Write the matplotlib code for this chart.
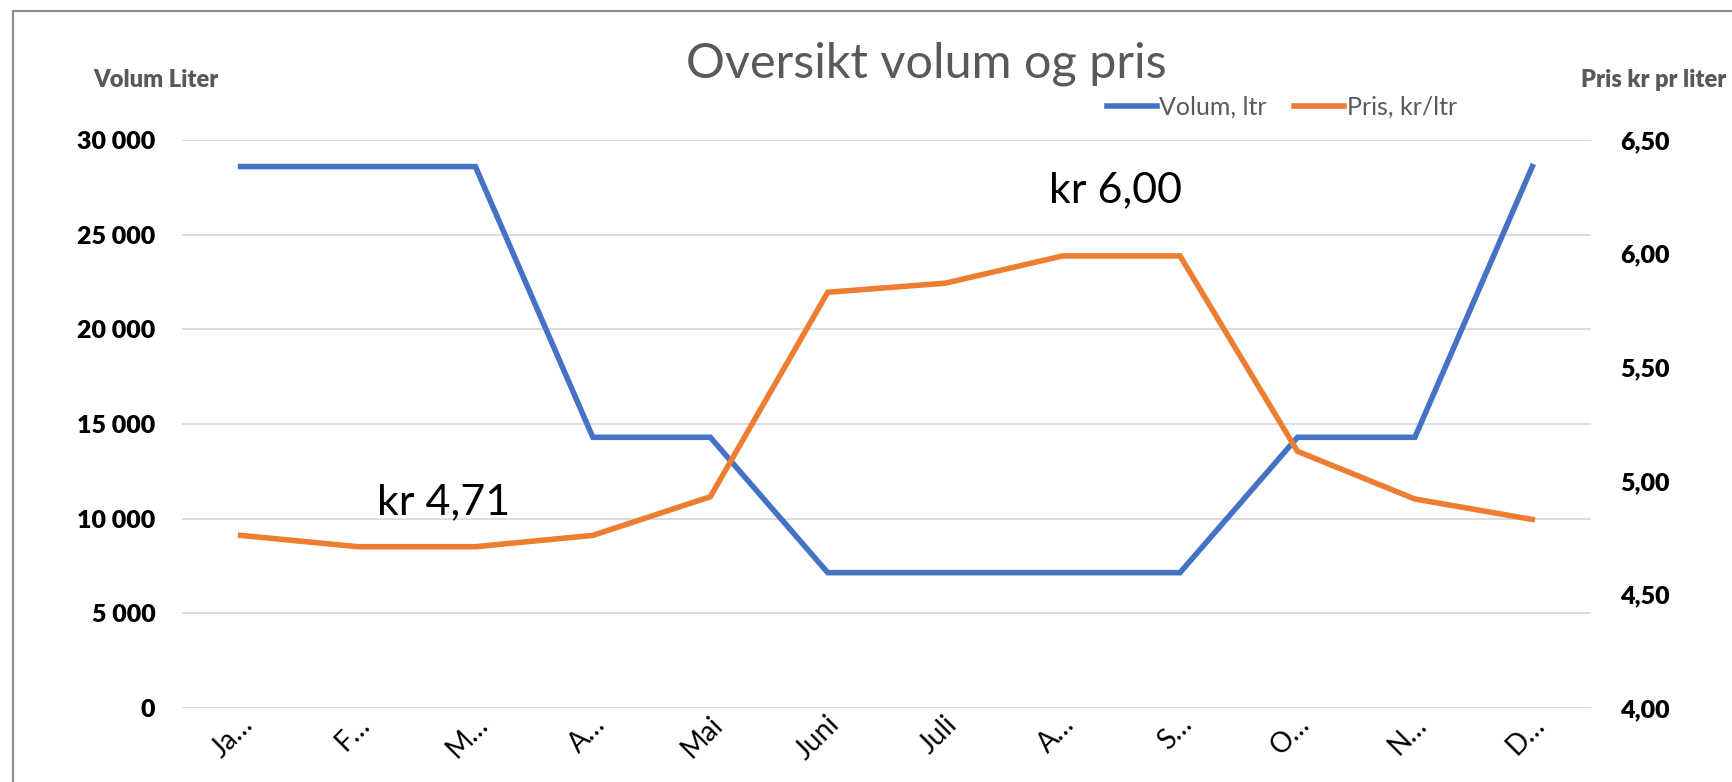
import numpy as np
import matplotlib.pyplot as plt
from matplotlib.patches import Rectangle
from matplotlib.ticker import FuncFormatter, MultipleLocator
from matplotlib.transforms import ScaledTranslation

plt.rcParams['font.family'] = ['Lato', 'DejaVu Sans']

# data
months = ['Ja…', 'F…', 'M…', 'A…', 'Mai', 'Juni', 'Juli', 'A…', 'S…', 'O…', 'N…', 'D…']
volum = [28600, 28600, 28600, 14300, 14300, 7150, 7150, 7150, 7150, 14300, 14300, 28600]
pris = [4.76, 4.71, 4.71, 4.76, 4.93, 5.83, 5.87, 5.99, 5.99, 5.13, 4.92, 4.83]

blue = '#4472C4'
orange = '#ED7D31'
grey = '#595959'

fig = plt.figure(figsize=(17.32, 7.82), dpi=100)
# outer frame of the chart object (cut at right and bottom)
fig.patches.append(Rectangle((13 / 1732, -0.1), 1.2, 1.1 - 11 / 782, transform=fig.transFigure,
                             fill=False, edgecolor='#8c8c8c', linewidth=1.6))

ax = fig.add_axes([0.105, 0.0946, 0.8136, 0.7263])
ax2 = ax.twinx()

x = np.arange(len(months))
l1, = ax.plot(x, volum, color=blue, lw=4, solid_joinstyle='miter', label='Volum, ltr', zorder=3)
l2, = ax2.plot(x, pris, color=orange, lw=4, solid_joinstyle='miter', label='Pris, kr/ltr', zorder=3)

ax.set_xlim(-0.5, 11.5)
ax.set_ylim(0, 30000)
ax2.set_ylim(4.0, 6.5)
ax.yaxis.set_major_locator(MultipleLocator(5000))
ax2.yaxis.set_major_locator(MultipleLocator(0.5))
ax.yaxis.set_major_formatter(FuncFormatter(lambda v, p: f'{int(v):,}'.replace(',', ' ')))
ax2.yaxis.set_major_formatter(FuncFormatter(lambda v, p: f'{v:.2f}'.replace('.', ',')))

ax.grid(axis='y', color='#d9d9d9', lw=1.3)
ax.set_axisbelow(True)
for a in (ax, ax2):
    for s in a.spines.values():
        s.set_visible(False)
    a.tick_params(length=0)

ax.tick_params(axis='y', pad=19, labelsize=18)
ax2.tick_params(axis='y', pad=21, labelsize=18)
for t in ax.get_yticklabels() + ax2.get_yticklabels():
    t.set_fontweight('heavy')

ax.set_xticks(x)
ax.set_xticklabels(months, rotation=45, ha='right', va='center', rotation_mode='anchor', fontsize=20)
ax.tick_params(axis='x', pad=9)
# labels sit a bit right of the tick, like excel
shift = ScaledTranslation(0.08, 0, fig.dpi_scale_trans)
for lbl in ax.get_xticklabels():
    lbl.set_transform(lbl.get_transform() + shift)

# data labels
ax2.text(1.73, 4.905, 'kr 4,71', fontsize=31, ha='center', va='center')
ax2.text(7.45, 6.28, 'kr 6,00', fontsize=31, ha='center', va='center')

fig.text(0.535, 0.918, 'Oversikt volum og pris', fontsize=35, color=grey, ha='center', va='center')
fig.text(0.054, 0.898, 'Volum Liter', fontsize=17, color=grey, fontweight='heavy', va='center')
fig.text(0.913, 0.898, 'Pris kr pr liter', fontsize=17, color=grey, fontweight='heavy', va='center')

fig.legend(handles=[l1, l2], loc='center', bbox_to_anchor=(0.74, 0.863), ncol=2, frameon=False,
           fontsize=18, labelcolor=grey, handlelength=2.0, handletextpad=0.1, columnspacing=1.1)

fig.savefig('out.png', dpi=100)
